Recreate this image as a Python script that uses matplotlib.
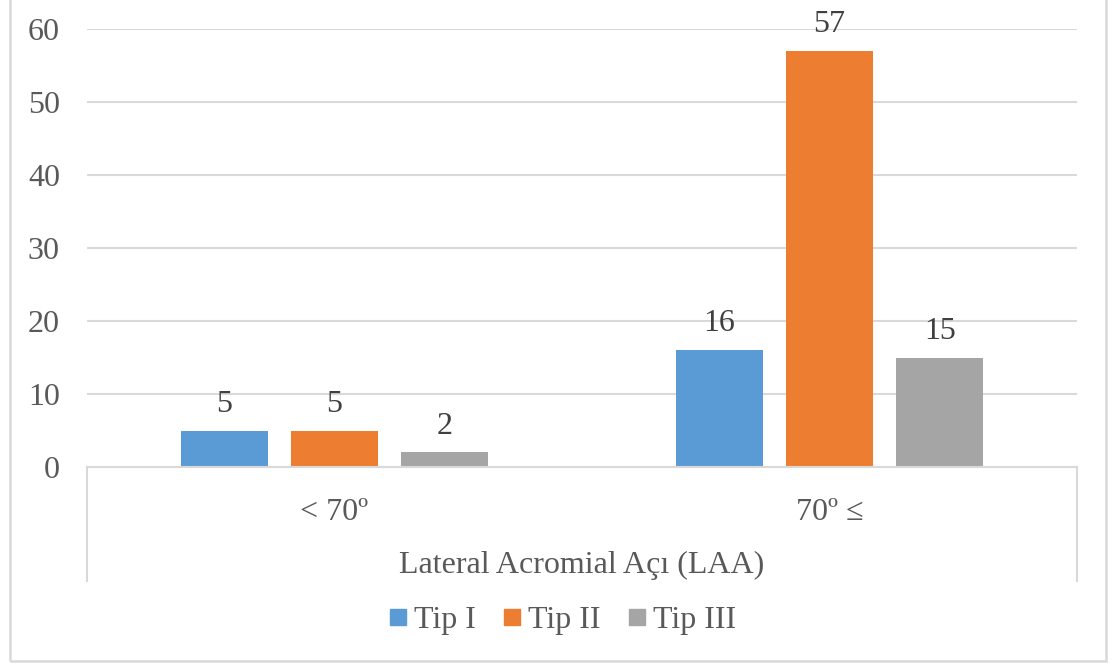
import matplotlib
matplotlib.use("Agg")
import matplotlib.pyplot as plt
from matplotlib.lines import Line2D
from matplotlib.patches import Rectangle
import numpy as np

categories = ["< 70º", "70º ≤"]
series_names = ["Tip I", "Tip II", "Tip III"]
tip1 = [5, 16]
tip2 = [5, 57]
tip3 = [2, 15]
yticks = [0, 10, 20, 30, 40, 50, 60]
axis_title = "Lateral Acromial Açı (LAA)"

colors = ["#5B9BD5", "#ED7D31", "#A5A5A5"]
grid_c = "#D9D9D9"
text_c = "#595959"
label_c = "#404040"
fs = 23

plt.rcParams["font.family"] = ["Liberation Serif", "DejaVu Serif"]

W, H = 1113, 666
fig = plt.figure(figsize=(W / 100, H / 100), dpi=100)
fig.patch.set_facecolor("white")

left, right, top, bottom = 87, 1077, 29, 467
ax = fig.add_axes([left / W, 1 - bottom / H, (right - left) / W, (bottom - top) / H])

x = np.arange(len(categories))
bw = 0.176
step = 0.223
for i, (vals, c) in enumerate(zip([tip1, tip2, tip3], colors)):
    bars = ax.bar(x + (i - 1) * step, vals, width=bw, color=c, zorder=3)
    ax.bar_label(bars, labels=[str(v) for v in vals], padding=8.5,
                 fontsize=fs, color=label_c)

ax.set_xlim(-0.5, 1.5)
ax.set_ylim(0, 60)
ax.set_yticks(yticks)
ax.set_yticklabels([str(t) for t in yticks])
ax.tick_params(axis="y", length=0, pad=19.5, labelsize=fs, labelcolor=text_c)
ax.set_xticks(x)
ax.set_xticklabels(categories)
ax.tick_params(axis="x", length=0, pad=22.5, labelsize=fs, labelcolor=text_c)

ax.yaxis.grid(True, color=grid_c, linewidth=1.5, zorder=0)
for s in ["top", "right", "left"]:
    ax.spines[s].set_visible(False)
ax.spines["bottom"].set_color(grid_c)
ax.spines["bottom"].set_linewidth(1.5)
ax.spines["bottom"].set_zorder(4)

# category bracket lines below the axis
brk = (bottom - 581) / (bottom - top)
for xa in (0, 1):
    ax.plot([xa, xa], [0, brk], transform=ax.transAxes, color=grid_c,
            linewidth=1.5, clip_on=False)

fig.text(582 / W, 1 - 565 / H, axis_title, ha="center", va="center",
         fontsize=fs, color=text_c)

handles = [Line2D([], [], marker="s", linestyle="none", markersize=11.5,
                  markerfacecolor=c, markeredgecolor=c) for c in colors]
fig.legend(handles, series_names, loc="center", bbox_to_anchor=(563 / W, 1 - 620 / H),
           ncol=3, frameon=False, fontsize=fs, labelcolor=text_c,
           handlelength=0.5, handletextpad=0.25, columnspacing=0.9)

# chart border
fig.patches.append(Rectangle((10 / W, 5 / H), (1106 - 10) / W, 1.0,
                             transform=fig.transFigure, fill=False,
                             edgecolor=grid_c, linewidth=1.8))

fig.savefig("out.png", dpi=100, facecolor="white")
